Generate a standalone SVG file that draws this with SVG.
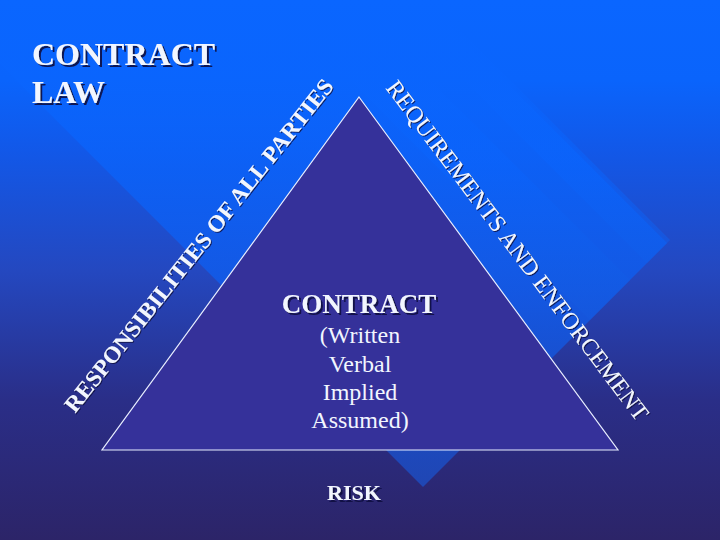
<svg xmlns="http://www.w3.org/2000/svg" width="720" height="540" viewBox="0 0 720 540">
  <defs>
    <linearGradient id="bg" x1="0" y1="0" x2="0" y2="540" gradientUnits="userSpaceOnUse">
      <stop offset="0" stop-color="#0a66ff"/>
      <stop offset="0.15" stop-color="#0a64fc"/>
      <stop offset="0.28" stop-color="#1258e8"/>
      <stop offset="0.5" stop-color="#2448c0"/>
      <stop offset="0.74" stop-color="#2a2e88"/>
      <stop offset="1" stop-color="#2c2468"/>
    </linearGradient>
    <linearGradient id="band" x1="0" y1="0" x2="0" y2="490" gradientUnits="userSpaceOnUse">
      <stop offset="0" stop-color="#0a66ff"/>
      <stop offset="0.3" stop-color="#0a64fc"/>
      <stop offset="0.6" stop-color="#0e5ef0"/>
      <stop offset="1" stop-color="#1c50c8"/>
    </linearGradient>
    <linearGradient id="stripe" x1="0" y1="0" x2="0" y2="330" gradientUnits="userSpaceOnUse">
      <stop offset="0" stop-color="#0a66ff"/>
      <stop offset="0.5" stop-color="#0a64fc"/>
      <stop offset="1" stop-color="#1658dc"/>
    </linearGradient>
    <filter id="shadow" x="-10%" y="-10%" width="130%" height="130%">
      <feDropShadow dx="2" dy="2" stdDeviation="0.3" flood-color="#0b1040" flood-opacity="0.9"/>
    </filter>
    <filter id="shadowSmall" x="-10%" y="-10%" width="130%" height="130%">
      <feDropShadow dx="1" dy="1" stdDeviation="0.2" flood-color="#0b1040" flood-opacity="0.85"/>
    </filter>
  </defs>
  <style>
    .serif { font-family: "Liberation Serif", "Times New Roman", serif; fill: #f2f6ff; }
    .bold { font-weight: bold; }
    .mid { text-anchor: middle; }
  </style>

  <g id="background">
    <rect x="0" y="0" width="720" height="540" fill="url(#bg)"/>
    <polygon points="423,487 667,243 67,-357 -177,-113" fill="url(#band)" opacity="0.75"/>
    <polygon points="590,320 630,280 230,-120 190,-80" fill="url(#stripe)" opacity="0.55"/>
    <polygon points="647,263 670,240 270,-160 247,-137" fill="url(#stripe)" opacity="0.55"/>
  </g>

  <g id="title" filter="url(#shadow)">
    <text class="serif bold" x="32" y="65" font-size="32">CONTRACT</text>
    <text class="serif bold" x="32" y="103" font-size="32">LAW</text>
  </g>

  <g id="triangle">
    <polygon points="359,97 618,450 102,450" fill="#35319a" stroke="#e8eeff" stroke-width="1.2"/>
  </g>

  <g id="left-label" filter="url(#shadowSmall)">
    <text class="serif bold" font-size="23" transform="translate(75,414) rotate(-51.6)" textLength="418" lengthAdjust="spacingAndGlyphs">RESPONSIBILITIES OF ALL PARTIES</text>
  </g>

  <g id="right-label" filter="url(#shadowSmall)">
    <text class="serif" font-size="24" transform="translate(385,88) rotate(53)" textLength="419" lengthAdjust="spacingAndGlyphs">REQUIREMENTS AND ENFORCEMENT</text>
  </g>

  <g id="contract-node">
    <text class="serif bold mid" x="359" y="313" font-size="27" filter="url(#shadow)">CONTRACT</text>
    <text class="serif mid" x="360" y="343" font-size="24">(Written</text>
    <text class="serif mid" x="360" y="372" font-size="24">Verbal</text>
    <text class="serif mid" x="360" y="400" font-size="24">Implied</text>
    <text class="serif mid" x="360" y="428" font-size="24">Assumed)</text>
  </g>

  <g id="risk-node">
    <text class="serif bold mid" x="354" y="500" font-size="22" filter="url(#shadow)">RISK</text>
  </g>

  <g id="connectors"/>
</svg>
